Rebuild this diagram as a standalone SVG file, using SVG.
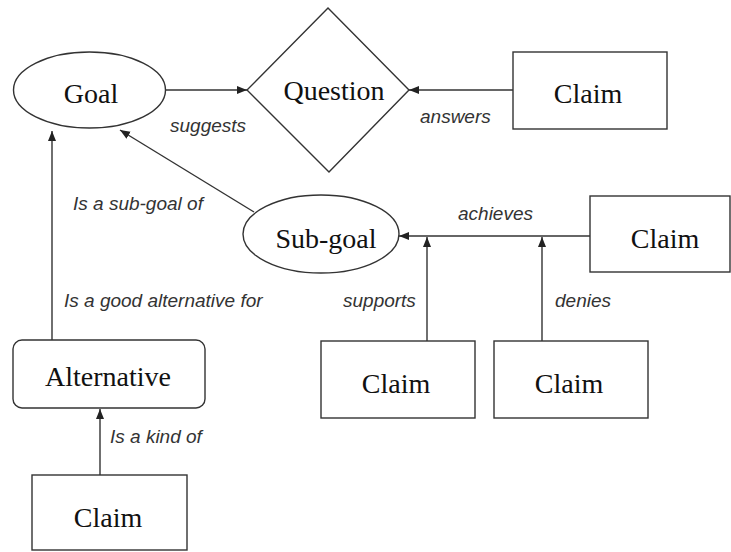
<svg xmlns="http://www.w3.org/2000/svg" width="731" height="552" viewBox="0 0 731 552">
  <style>
    .shape { fill: #ffffff; stroke: #333333; stroke-width: 1.4; }
    .node-text { font-family: 'Liberation Serif', 'DejaVu Serif', serif; font-size: 28px; fill: #111111; text-anchor: middle; }
    .edge { stroke: #333333; stroke-width: 1.4; fill: none; marker-end: url(#arrow); }
    .edge-label { font-family: 'Liberation Sans', Arial, sans-serif; font-size: 19px; font-style: italic; fill: #333333; }
  </style>
  <defs>
    <marker id="arrow" markerUnits="userSpaceOnUse" markerWidth="11" markerHeight="9" refX="10" refY="4" orient="auto">
      <path d="M0,0 L10,4 L0,8 z" fill="#222222"/>
    </marker>
  </defs>
  <rect width="731" height="552" fill="#ffffff"/>

  <!-- relations and their labels -->
  <g id="connectors">
    <line class="edge" x1="166" y1="90" x2="247" y2="90"/>
    <line class="edge" x1="513" y1="90" x2="409" y2="90"/>
    <line class="edge" x1="254" y1="212" x2="120" y2="130"/>
    <line class="edge" x1="52" y1="340" x2="52" y2="131"/>
    <line class="edge" x1="590" y1="236" x2="399" y2="236"/>
    <line class="edge" x1="427" y1="341" x2="427" y2="237"/>
    <line class="edge" x1="542" y1="341" x2="542" y2="237"/>
    <line class="edge" x1="100" y1="475" x2="100" y2="409"/>
    <text class="edge-label" x="170" y="132">suggests</text>
    <text class="edge-label" x="420" y="123">answers</text>
    <text class="edge-label" x="73" y="210">Is a sub-goal of</text>
    <text class="edge-label" x="64" y="307">Is a good alternative for</text>
    <text class="edge-label" x="458" y="220">achieves</text>
    <text class="edge-label" x="343" y="307">supports</text>
    <text class="edge-label" x="555" y="307">denies</text>
    <text class="edge-label" x="110" y="443">Is a kind of</text>
  </g>

  <g id="goal">
    <ellipse class="shape" cx="89.5" cy="90" rx="76" ry="38"/>
    <text class="node-text" x="91" y="103">Goal</text>
  </g>

  <g id="question">
    <polygon class="shape" points="328,8 409,90 329,172 247,90"/>
    <text class="node-text" x="334" y="100">Question</text>
  </g>

  <g id="claim-answers">
    <rect class="shape" x="513" y="52" width="154" height="77"/>
    <text class="node-text" x="588" y="103">Claim</text>
  </g>

  <g id="sub-goal">
    <ellipse class="shape" cx="321" cy="234" rx="78" ry="39"/>
    <text class="node-text" x="326" y="248">Sub-goal</text>
  </g>

  <g id="claim-achieves">
    <rect class="shape" x="590" y="196" width="140" height="76"/>
    <text class="node-text" x="665" y="248">Claim</text>
  </g>

  <g id="claim-supports">
    <rect class="shape" x="321" y="341" width="154" height="77"/>
    <text class="node-text" x="396" y="393">Claim</text>
  </g>

  <g id="claim-denies">
    <rect class="shape" x="494" y="341" width="154" height="77"/>
    <text class="node-text" x="569" y="393">Claim</text>
  </g>

  <g id="alternative">
    <rect class="shape" x="13" y="340" width="192" height="68" rx="9" ry="9"/>
    <text class="node-text" x="108" y="386">Alternative</text>
  </g>

  <g id="claim-kind-of">
    <rect class="shape" x="32" y="475" width="155" height="75"/>
    <text class="node-text" x="108" y="527">Claim</text>
  </g>
</svg>
